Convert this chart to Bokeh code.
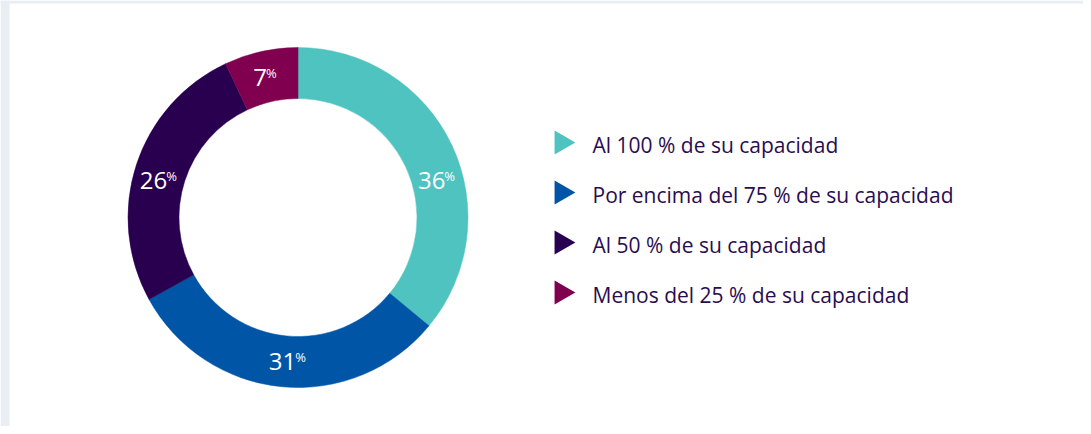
import math
from bokeh.plotting import figure
from bokeh.models import Range1d, ColumnDataSource, BoxAnnotation
from bokeh.core.properties import value
from bokeh.embed import file_html
from bokeh.resources import INLINE

# ---- data ----
categories = [
    "Al 100 % de su capacidad",
    "Por encima del 75 % de su capacidad",
    "Al 50 % de su capacidad",
    "Menos del 25 % de su capacidad",
]
values = [36, 31, 26, 7]
colors = ["#4fc3bf", "#0055a6", "#29004f", "#80004f"]

# ---- style / layout constants (fig coords: 1 unit = 1 px, y up) ----
W, H = 1083, 426
FONT = "Open Sans"
CX, CY = 297.5, 209.0
R_OUT, R_IN = 170.0, 119.0
LABEL_R = 144.0
label_angle_deg = [75, 184, 285, 347]   # label placement angle (clockwise from top)
NUM_SIZE, PCT_SIZE = 24, 13
LEG_X_MARK, LEG_X_TEXT = 561.0, 592
LEG_TOP, LEG_STEP = 284, 50
TEXT_COLOR = "#2a0d50"
BG_STRIP = "#e8eef3"

p = figure(width=W, height=H, x_range=Range1d(0, W), y_range=Range1d(0, H),
           output_backend="svg", toolbar_location=None, min_border=0,
           x_axis_location=None, y_axis_location=None)
p.grid.visible = False
p.outline_line_color = None
p.background_fill_color = "white"
p.border_fill_color = "white"

p.add_layout(BoxAnnotation(left=0, right=9, bottom=0, top=H, fill_color=BG_STRIP,
                           fill_alpha=1, line_color=None))
p.add_layout(BoxAnnotation(left=0, right=W, bottom=H - 3, top=H, fill_color=BG_STRIP,
                           fill_alpha=1, line_color=None))

total = float(sum(values))
cum = [0.0]
for v in values:
    cum.append(cum[-1] + v)
starts = [math.pi / 2 - 2 * math.pi * c / total for c in cum[:-1]]
ends = [math.pi / 2 - 2 * math.pi * c / total for c in cum[1:]]

src = ColumnDataSource(dict(x=[CX] * len(values), y=[CY] * len(values),
                            start=starts, end=ends, color=colors))
p.annular_wedge(x="x", y="y", inner_radius=R_IN, outer_radius=R_OUT,
                start_angle="start", end_angle="end", direction="clock",
                fill_color="color", line_color="color", line_width=0.5, source=src)

# labels (text_baseline "middle": vertical centre of the digits)
nx, ny, nt, px_, py_, pt = [], [], [], [], [], []
for v, a in zip(values, label_angle_deg):
    ar = math.radians(a)
    lx = CX + LABEL_R * math.sin(ar)
    ly = CY + LABEL_R * math.cos(ar)
    s = str(v)
    wn = len(s) * 0.572 * NUM_SIZE
    wp = 0.838 * PCT_SIZE
    tot = wn + wp
    xr = lx - tot / 2 + wn
    nx.append(xr); ny.append(ly); nt.append(s)
    px_.append(xr - 1); py_.append(ly + 4.5); pt.append("%")

p.text(x=nx, y=ny, text=nt, text_align="right", text_baseline="middle",
       text_font=value(FONT), text_font_size=f"{NUM_SIZE}px", text_color="white")
p.text(x=px_, y=py_, text=pt, text_align="left", text_baseline="middle",
       text_font=value(FONT), text_font_size=f"{PCT_SIZE}px", text_color="white")

# legend
ly_list = [LEG_TOP - i * LEG_STEP for i in range(len(categories))]
p.scatter(x=[LEG_X_MARK] * len(categories), y=ly_list, marker="triangle",
          size=24, angle=-math.pi / 2, fill_color=colors, line_color=None)
p.text(x=[LEG_X_TEXT] * len(categories), y=[y - 2 for y in ly_list], text=categories,
       text_align="left", text_baseline="middle", text_font=value(FONT),
       text_font_size="21px", text_color=TEXT_COLOR)

open("out.html", "w").write(file_html(p, INLINE))
